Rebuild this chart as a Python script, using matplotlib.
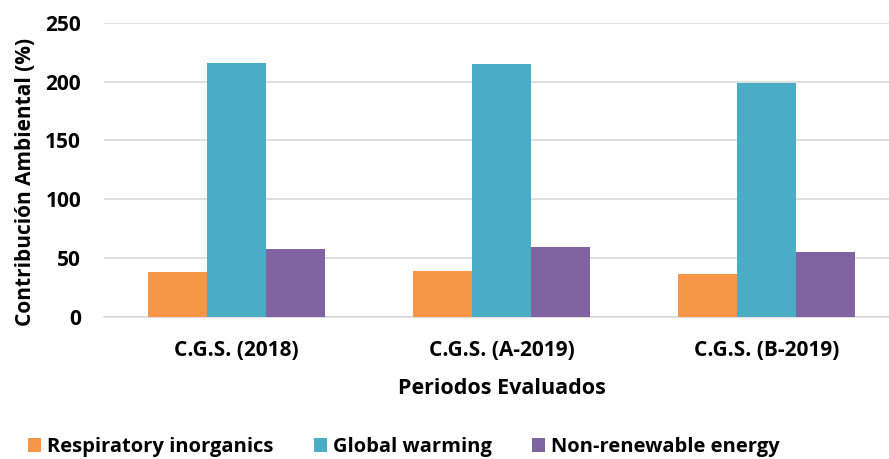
import matplotlib
matplotlib.use("Agg")
import matplotlib.pyplot as plt
import numpy as np

categories = ["C.G.S. (2018)", "C.G.S. (A-2019)", "C.G.S. (B-2019)"]
series_names = ["Respiratory inorganics", "Global warming", "Non-renewable energy"]
respiratory = [38.4, 38.9, 36.2]
global_warming = [215.5, 214.8, 199.0]
non_renewable = [57.9, 59.0, 54.8]
colors = ["#F79646", "#4BACC6", "#8064A2"]
yticks = [0, 50, 100, 150, 200, 250]

plt.rcParams['font.family'] = ['Open Sans', 'DejaVu Sans']
plt.rcParams['font.weight'] = 'bold'

fig = plt.figure(figsize=(8.89, 4.59), dpi=100)
W, H = 889, 459
left, right, top, bottom = 104, 899, 22.7, 316.7
ax = fig.add_axes([left / W, 1 - bottom / H, (right - left) / W, (bottom - top) / H])

x = np.arange(len(categories))
bw = 0.222
for i, (vals, name) in enumerate(zip([respiratory, global_warming, non_renewable], series_names)):
    ax.bar(x + (i - 1) * bw, vals, width=bw, color=colors[i], label=name, zorder=3)

ax.set_xlim(-0.5, 2.5)
ax.set_ylim(0, 250)
ax.set_yticks(yticks)
ax.yaxis.grid(True, color="#D9D9D9", linewidth=1.2, zorder=0)
for s in ["top", "right", "left"]:
    ax.spines[s].set_visible(False)
ax.spines["bottom"].set_color("#D9D9D9")
ax.spines["bottom"].set_linewidth(1.2)
ax.tick_params(axis="x", length=0, labelsize=15, pad=17)
ax.tick_params(axis="y", length=0, labelsize=15, pad=16.5)
ax.set_xticks(x)
ax.set_xticklabels(categories, fontweight="bold")
for lab in ax.get_yticklabels():
    lab.set_fontweight("bold")

fig.text(26 / W, 1 - 182 / H, "Contribución Ambiental (%)", rotation=90, ha="center", va="center",
         fontsize=15, fontweight="bold")
fig.text(502 / W, 1 - 389 / H, "Periodos Evaluados", ha="center", va="center",
         fontsize=15.5, fontweight="bold")

fig.legend(loc="center left", bbox_to_anchor=(28 / W, 1 - 447 / H), ncol=3, frameon=False,
           borderpad=0, borderaxespad=0,
           handlelength=0.65, handleheight=0.65, handletextpad=0.3, columnspacing=2.0,
           prop={"weight": "bold", "size": 14.5})

fig.savefig("out.png", dpi=100)
